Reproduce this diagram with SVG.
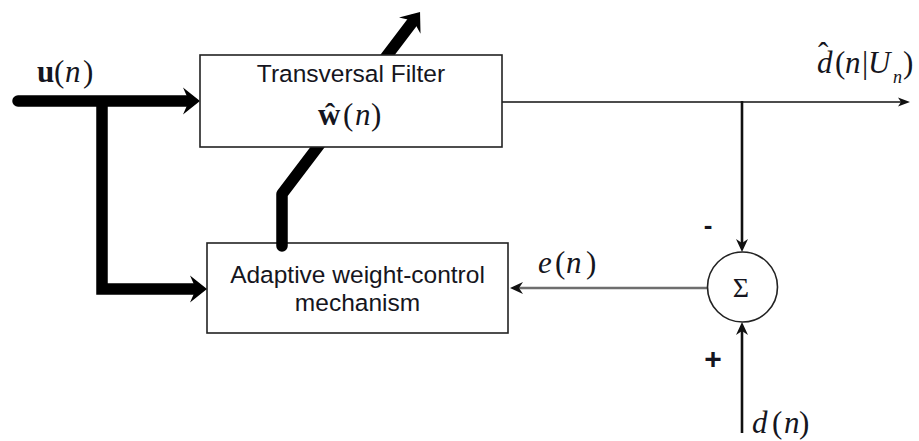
<svg xmlns="http://www.w3.org/2000/svg" width="919" height="441" viewBox="0 0 919 441">
<style>
.box{fill:#fff;stroke:#222;stroke-width:1.6}
.lbl{font-family:"Liberation Sans",Arial,sans-serif;font-size:24.5px;fill:#151520;text-anchor:middle}
.m{font-family:"Liberation Serif","Times New Roman",serif;font-size:31px;fill:#151520}
.i{font-style:italic}
.b{font-weight:bold}
.sign{font-family:"Liberation Sans",Arial,sans-serif;font-weight:bold;fill:#151520}
.thick{fill:none;stroke:#000;stroke-width:11.5}
.thin{fill:none;stroke:#111;stroke-width:1.6}
.med{fill:none;stroke:#111;stroke-width:2.6}
.gray{fill:none;stroke:#6e6e6e;stroke-width:2.6}
</style>
<defs>
<marker id="ahThick" markerUnits="userSpaceOnUse" viewBox="-18 -14 19 28" markerWidth="19" markerHeight="28" refX="-10" refY="0" orient="auto"><path d="M0,0 L-17,-13.5 L-11,0 L-17,13.5 Z" fill="#000"/></marker>
<marker id="ahThin" markerUnits="userSpaceOnUse" viewBox="-13 -5 14 10" markerWidth="14" markerHeight="10" refX="-5" refY="0" orient="auto"><path d="M0,0 L-12,-4.5 L-9,0 L-12,4.5 Z" fill="#111"/></marker>
<marker id="ahMed" markerUnits="userSpaceOnUse" viewBox="-14 -7 15 14" markerWidth="15" markerHeight="14" refX="-5" refY="0" orient="auto"><path d="M0,0 L-13,-6 L-9,0 L-13,6 Z" fill="#111"/></marker>
</defs>

<g id="adaptive">
<rect class="box" x="207" y="243" width="301" height="90"/>
<text class="lbl" x="357.5" y="283">Adaptive weight-control</text>
<text class="lbl" x="357.5" y="311">mechanism</text>
</g>

<g id="connectors">
<path class="thick" d="M18,101 L190,101" stroke-linecap="round" marker-end="url(#ahThick)"/>
<path class="thick" d="M102,97 L102,289 L197,289" stroke-linejoin="miter" marker-end="url(#ahThick)"/>
<path class="thick" d="M282,246 L282,194 L414,20" stroke-linejoin="round" stroke-linecap="round" marker-end="url(#ahThick)"/>
<path class="thin" d="M502,102 L905,102" marker-end="url(#ahThin)"/>
<path class="med" d="M742,101 L742,247" marker-end="url(#ahMed)"/>
<path class="med" d="M742,433 L742,327" marker-end="url(#ahMed)"/>
<path class="gray" d="M707,288 L515,288" marker-end="url(#ahMed)"/>
</g>

<g id="filter">
<rect class="box" x="200" y="55" width="302" height="92"/>
<text class="lbl" x="351" y="82">Transversal Filter</text>
<text class="m" y="125"><tspan x="318" class="b">ŵ</tspan><tspan x="343">(</tspan><tspan x="355" class="i">n</tspan><tspan x="371">)</tspan></text>
</g>

<g id="sum">
<circle cx="742.5" cy="287" r="35" fill="#fff" stroke="#222" stroke-width="1.6"/>
<text x="741" y="296.5" font-family="Liberation Serif, Times New Roman, serif" font-size="28" fill="#151520" text-anchor="middle">Σ</text>
</g>

<g id="labels">
<text class="m" y="82"><tspan x="37" class="b">u</tspan><tspan x="54">(</tspan><tspan x="65" class="i">n</tspan><tspan x="83">)</tspan></text>
<text class="m" y="73"><tspan x="817" class="i">d</tspan><tspan x="835">(</tspan><tspan x="845" class="i">n</tspan><tspan x="862">|</tspan><tspan x="868" class="i">U</tspan><tspan x="893" y="83" class="i" font-size="18">n</tspan><tspan x="903" y="73">)</tspan><tspan x="818" y="64">ˆ</tspan></text>
<text class="m" y="273"><tspan x="538" class="i">e</tspan><tspan x="555">(</tspan><tspan x="566" class="i">n</tspan><tspan x="586">)</tspan></text>
<text class="m" y="433"><tspan x="752" class="i">d</tspan><tspan x="772">(</tspan><tspan x="784" class="i">n</tspan><tspan x="799">)</tspan></text>
<text class="sign" x="708" y="234" font-size="26" text-anchor="middle">-</text>
<text class="sign" x="713" y="369" font-size="30" text-anchor="middle">+</text>
</g>
</svg>
